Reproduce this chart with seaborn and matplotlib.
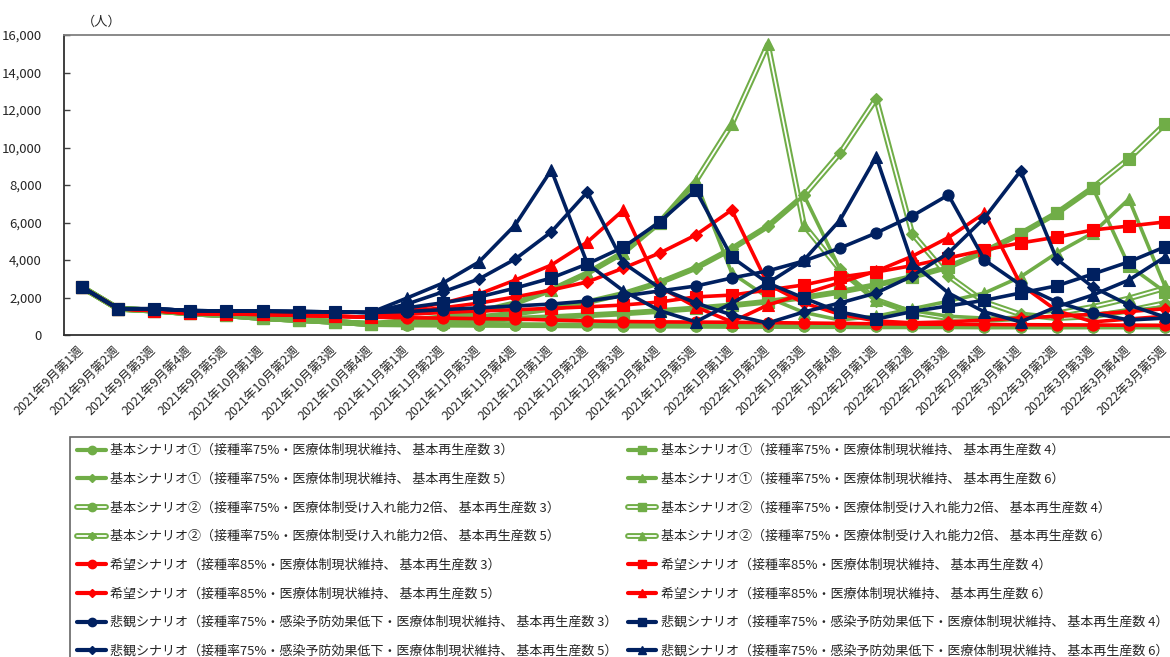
import matplotlib
matplotlib.use("Agg")
import matplotlib.pyplot as plt
from matplotlib.lines import Line2D
from matplotlib.legend_handler import HandlerTuple
from matplotlib.ticker import FuncFormatter
import seaborn as sns
import numpy as np
import pandas as pd

# ---- week categories -------------------------------------------------------
months = [(2021, 9, 5), (2021, 10, 4), (2021, 11, 4), (2021, 12, 5),
          (2022, 1, 4), (2022, 2, 4), (2022, 3, 5)]
week_labels = [f"{y}年{m}月第{w}週" for (y, m, n) in months for w in range(1, n + 1)]

# ---- shared opening weeks per scenario group -------------------------------
green_head = [2550, 1400, 1300, 1150, 1050, 900, 800, 700, 580]
red_head = [2550, 1400, 1300, 1150, 1120, 1100, 1050, 1000, 950]
navy_head = [2550, 1400, 1400, 1300, 1280, 1270, 1250, 1230, 1200]

# 基本シナリオ① (接種率75%・医療体制現状維持)
basic1_r3 = green_head + [560, 550, 540, 530, 520, 510, 500, 500, 490, 480, 480,
                          470, 470, 460, 460, 460, 450, 450, 450, 450, 450, 450]
basic1_r4 = green_head + [650, 720, 800, 870, 950, 1050, 1150, 1280, 1420, 1580, 1780,
                          2000, 2300, 2670, 3100, 3630, 4450, 5400, 6500, 7850, 3700, 2300]
basic1_r5 = green_head + [680, 800, 950, 1150, 1400, 1750, 2200, 2800, 3570, 4600, 5800,
                          7450, 3500, 1800, 1300, 1000, 900, 900, 1000, 1100, 1300, 1500]
basic1_r6 = green_head + [760, 950, 1250, 1700, 2400, 3300, 4400, 6000, 8200, 3300, 2000,
                          1200, 800, 1000, 1400, 1800, 2240, 3100, 4370, 5440, 7250, 2600]

# 基本シナリオ② (接種率75%・医療体制受け入れ能力2倍)
basic2_r3 = list(basic1_r3)
basic2_r4 = green_head + [650, 720, 800, 870, 950, 1050, 1150, 1280, 1420, 1580, 1780,
                          2000, 2300, 2670, 3100, 3630, 4450, 5400, 6500, 7850, 9400, 11250]
basic2_r5 = green_head + [680, 800, 950, 1150, 1400, 1750, 2200, 2800, 3570, 4600, 5800,
                          7450, 9700, 12600, 5400, 3150, 1760, 1100, 900, 1000, 1300, 1700]
basic2_r6 = green_head + [760, 950, 1250, 1700, 2400, 3300, 4400, 6000, 8200, 11250, 15500,
                          5850, 3470, 1870, 1200, 900, 800, 900, 1150, 1500, 1950, 2500]

# 希望シナリオ (接種率85%・医療体制現状維持)
hope_r3 = red_head + [920, 900, 870, 850, 800, 750, 720, 700, 690, 680, 660,
                      640, 620, 600, 580, 570, 560, 550, 540, 530, 520, 510]
hope_r4 = red_head + [1100, 1200, 1280, 1350, 1420, 1500, 1600, 1760, 2030, 2130, 2400,
                      2670, 3090, 3360, 3700, 4110, 4530, 4910, 5220, 5600, 5810, 6030]
hope_r5 = red_head + [1250, 1450, 1700, 2030, 2400, 2830, 3570, 4370, 5330, 6670, 2700,
                      1700, 1100, 750, 650, 700, 800, 900, 1000, 1100, 1250, 1400]
hope_r6 = red_head + [1350, 1700, 2190, 2930, 3730, 4960, 6670, 2560, 1500, 700, 1600,
                      2200, 2800, 3400, 4200, 5200, 6500, 2700, 1300, 700, 850, 1000]

# 悲観シナリオ (接種率75%・感染予防効果低下・医療体制現状維持)
pess_r3 = navy_head + [1250, 1350, 1450, 1550, 1650, 1810, 2080, 2350, 2610, 3040, 3420,
                       3950, 4640, 5440, 6350, 7470, 4000, 2670, 1760, 1170, 800, 900]
pess_r4 = navy_head + [1450, 1720, 2030, 2500, 3040, 3790, 4690, 6030, 7730, 4150, 2770,
                       1970, 1220, 850, 1250, 1550, 1850, 2240, 2620, 3250, 3900, 4700]
pess_r5 = navy_head + [1650, 2300, 2990, 4050, 5500, 7630, 3840, 2510, 1710, 1070, 640,
                       1230, 1710, 2240, 3150, 4370, 6240, 8750, 4050, 2560, 1600, 960]
pess_r6 = navy_head + [1970, 2770, 3900, 5870, 8800, 3800, 2350, 1300, 700, 1700, 2770,
                       4000, 6130, 9500, 3840, 2240, 1230, 700, 1500, 2130, 2930, 4160]

GREEN = "#70AD47"
RED = "#FF0000"
NAVY = "#002060"
TXT = "#262626"

series = [
    ("基本シナリオ①（接種率75%・医療体制現状維持、 基本再生産数 3）", basic1_r3, GREEN, "o", False),
    ("基本シナリオ①（接種率75%・医療体制現状維持、 基本再生産数 4）", basic1_r4, GREEN, "s", False),
    ("基本シナリオ①（接種率75%・医療体制現状維持、 基本再生産数 5）", basic1_r5, GREEN, "D", False),
    ("基本シナリオ①（接種率75%・医療体制現状維持、 基本再生産数 6）", basic1_r6, GREEN, "^", False),
    ("基本シナリオ②（接種率75%・医療体制受け入れ能力2倍、 基本再生産数 3）", basic2_r3, GREEN, "o", True),
    ("基本シナリオ②（接種率75%・医療体制受け入れ能力2倍、 基本再生産数 4）", basic2_r4, GREEN, "s", True),
    ("基本シナリオ②（接種率75%・医療体制受け入れ能力2倍、 基本再生産数 5）", basic2_r5, GREEN, "D", True),
    ("基本シナリオ②（接種率75%・医療体制受け入れ能力2倍、 基本再生産数 6）", basic2_r6, GREEN, "^", True),
    ("希望シナリオ（接種率85%・医療体制現状維持、 基本再生産数 3）", hope_r3, RED, "o", False),
    ("希望シナリオ（接種率85%・医療体制現状維持、 基本再生産数 4）", hope_r4, RED, "s", False),
    ("希望シナリオ（接種率85%・医療体制現状維持、 基本再生産数 5）", hope_r5, RED, "D", False),
    ("希望シナリオ（接種率85%・医療体制現状維持、 基本再生産数 6）", hope_r6, RED, "^", False),
    ("悲観シナリオ（接種率75%・感染予防効果低下・医療体制現状維持、 基本再生産数 3）", pess_r3, NAVY, "o", False),
    ("悲観シナリオ（接種率75%・感染予防効果低下・医療体制現状維持、 基本再生産数 4）", pess_r4, NAVY, "s", False),
    ("悲観シナリオ（接種率75%・感染予防効果低下・医療体制現状維持、 基本再生産数 5）", pess_r5, NAVY, "D", False),
    ("悲観シナリオ（接種率75%・感染予防効果低下・医療体制現状維持、 基本再生産数 6）", pess_r6, NAVY, "^", False),
]

MSIZE = {"o": 8, "s": 8, "D": 6, "^": 8}

sns.set_theme(style="white")
plt.rcParams["font.family"] = ["Noto Sans CJK JP", "DejaVu Sans"]

fig = plt.figure(figsize=(11.7, 6.57), dpi=100)
ax = fig.add_axes([64 / 1170, 1 - 335 / 657, (1183 - 64) / 1170, 300 / 657])

xpos = np.arange(len(week_labels))
legend_items = []
for label, vals, color, mk, double in series:
    df = pd.DataFrame({"x": xpos, "y": vals})
    if double:
        # double rule: wide green stroke with a thin white core
        sns.lineplot(data=df, x="x", y="y", ax=ax, color=color, lw=4.2,
                     legend=False, zorder=2)
        sns.lineplot(data=df, x="x", y="y", ax=ax, color="white", lw=1.3,
                     marker=mk, markersize=MSIZE[mk], markerfacecolor=color,
                     markeredgecolor=color, markeredgewidth=0.8, legend=False, zorder=2)
        h = (Line2D([], [], color=color, lw=4.2),
             Line2D([], [], color="white", lw=1.3, marker=mk, markersize=MSIZE[mk] - 2,
                    markerfacecolor=color, markeredgecolor=color))
    else:
        sns.lineplot(data=df, x="x", y="y", ax=ax, color=color, lw=2.6,
                     marker=mk, markersize=MSIZE[mk], markerfacecolor=color,
                     markeredgecolor=color, markeredgewidth=0.8, legend=False, zorder=3)
        h = Line2D([], [], color=color, lw=3, marker=mk, markersize=MSIZE[mk] - 2,
                   markerfacecolor=color, markeredgecolor=color)
    legend_items.append((h, label))

ax.set_xlim(-0.5, len(week_labels) - 0.5)
ax.set_ylim(0, 16000)
ax.set_yticks(np.arange(0, 16001, 2000))
ax.yaxis.set_major_formatter(FuncFormatter(lambda v, p: f"{int(v):,}"))
ax.set_xticks(xpos)
ax.set_xticklabels(week_labels, rotation=45, ha="right", va="center",
                   rotation_mode="anchor", fontsize=9, color=TXT)
ax.tick_params(axis="y", labelsize=9.5, labelcolor=TXT, left=True, direction="in",
               length=4, width=1, color="#404040", pad=16)
ax.tick_params(axis="x", length=0, pad=10)
ax.set_xlabel("")
ax.set_ylabel("")
for side in ("left", "bottom"):
    ax.spines[side].set_color("#303030")
    ax.spines[side].set_linewidth(1.3)
ax.spines["top"].set_color("#808080")
ax.spines["top"].set_linewidth(1.3)
ax.spines["right"].set_color("#808080")

fig.text(82 / 1170, 1 - 22 / 657, "（人）", fontsize=9.5, color=TXT, va="center", ha="left")

# legend: left column R3/R5, right column R4/R6
left_col = [legend_items[i] for i in (0, 2, 4, 6, 8, 10, 12, 14)]
right_col = [legend_items[i] for i in (1, 3, 5, 7, 9, 11, 13, 15)]
ordered = left_col + right_col
leg = fig.legend([h for h, _ in ordered], [l for _, l in ordered], ncol=2,
                 loc="upper left", bbox_to_anchor=(70 / 1170, 1 - 437 / 657),
                 borderaxespad=0, fontsize=9.4, frameon=True, fancybox=False,
                 edgecolor="#404040",
                 handler_map={tuple: HandlerTuple(ndivide=1)},
                 handlelength=2.2, handletextpad=0.35, columnspacing=0.75,
                 labelspacing=1.2, borderpad=0.55)
leg.get_frame().set_linewidth(1.2)
for t in leg.get_texts():
    t.set_color(TXT)

fig.savefig("out.png", dpi=100)
